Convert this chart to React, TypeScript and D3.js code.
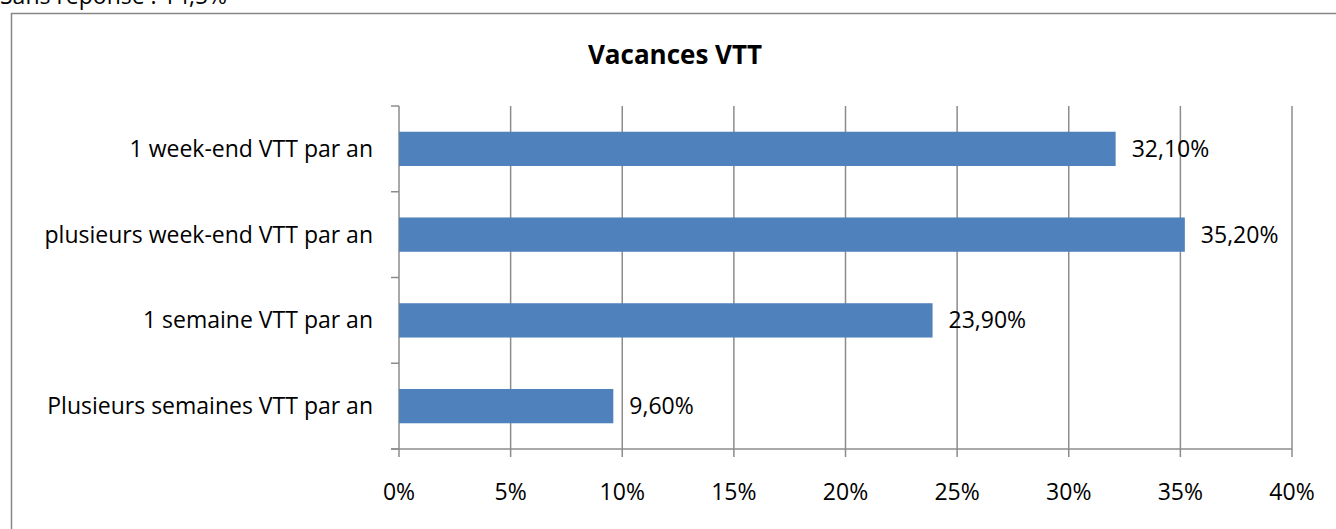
import React from "react";
import * as d3 from "d3";

const categories = [
  "1 week-end VTT par an",
  "plusieurs week-end VTT par an",
  "1 semaine VTT par an",
  "Plusieurs semaines VTT par an",
];
const values = [32.1, 35.2, 23.9, 9.6];
const valueLabels = ["32,10%", "35,20%", "23,90%", "9,60%"];
const ticks = [0, 5, 10, 15, 20, 25, 30, 35, 40];
const title = "Vacances VTT";
const topNote = "Sans réponse : 14,5%";

const W = 1336;
const H = 529;
const FONT = "'Open Sans', 'Noto Sans', sans-serif";

export default function App() {
  const x = d3.scaleLinear().domain([0, 40]).range([399, 1292]);
  const y = d3.scaleBand().domain(categories).range([106, 449]).paddingInner(0.6).paddingOuter(0.3);
  const bandStep = (449 - 106) / categories.length;
  const gridColor = "#8c8c8c";
  return (
    <svg width={W} height={H} style={{ position: "absolute", left: 0, top: 0, background: "#fff" }}>
      <rect x={11.5} y={13.5} width={1340} height={540} fill="#fff" stroke="#868686" strokeWidth={1.5} />
      <text x={0} y={4} fontFamily={FONT} fontSize={23} fill="#000">{topNote}</text>
      <text x={675} y={64} textAnchor="middle" fontFamily={FONT} fontSize={26} fontWeight="bold">{title}</text>
      {ticks.map((t) => (
        <g key={t}>
          <line x1={x(t)} x2={x(t)} y1={106} y2={457} stroke={gridColor} strokeWidth={1.5} />
          <text x={x(t)} y={500} textAnchor="middle" fontFamily={FONT} fontSize={23}>{t}%</text>
        </g>
      ))}
      <line x1={391} x2={1292} y1={449} y2={449} stroke={gridColor} strokeWidth={1.5} />
      {d3.range(categories.length + 1).map((i) => (
        <line key={i} x1={391} x2={399} y1={106 + i * bandStep} y2={106 + i * bandStep} stroke={gridColor} strokeWidth={1.5} />
      ))}
      {categories.map((c, i) => (
        <g key={c}>
          <rect x={x(0)} y={y(c)} width={x(values[i]) - x(0)} height={y.bandwidth()} fill="#4f81bd" />
          <text x={373} y={(y(c) as number) + y.bandwidth() / 2} dy="0.35em" textAnchor="end" fontFamily={FONT} fontSize={23}>{c}</text>
          <text x={x(values[i]) + 16} y={(y(c) as number) + y.bandwidth() / 2} dy="0.35em" fontFamily={FONT} fontSize={23}>{valueLabels[i]}</text>
        </g>
      ))}
    </svg>
  );
}
